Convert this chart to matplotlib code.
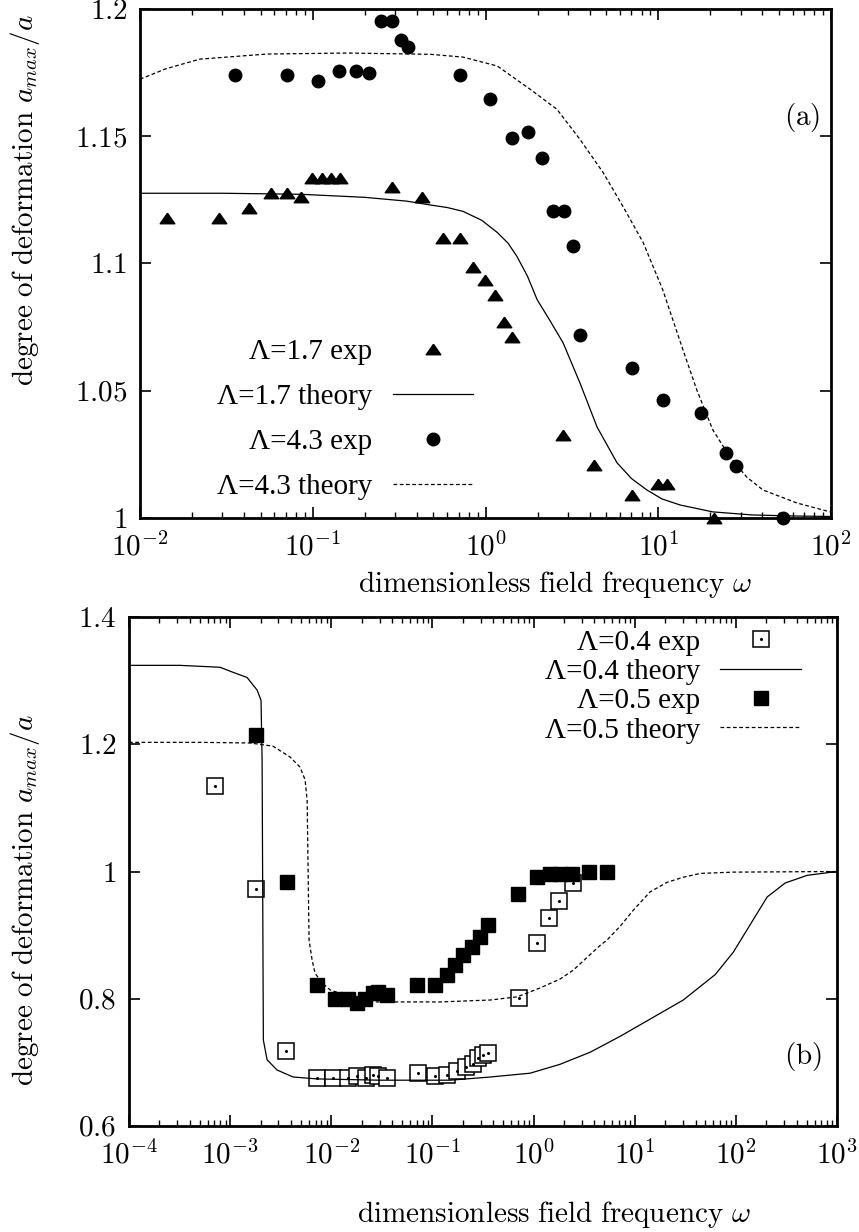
import numpy as np
import matplotlib
matplotlib.use("Agg")
import matplotlib.pyplot as plt
from matplotlib.ticker import FuncFormatter, LogLocator, FixedLocator

plt.rcParams['font.family'] = ['Liberation Serif', 'DejaVu Serif']
plt.rcParams['mathtext.fontset'] = 'cm'

# ---- panel (a) data ----
w17_exp = [0.0143, 0.0286, 0.0428, 0.0573, 0.071, 0.0855, 0.099, 0.113, 0.128, 0.144,
           0.288, 0.428, 0.567, 0.711, 0.847, 0.993, 1.135, 1.28, 1.42, 2.81,
           4.25, 7.05, 9.97, 11.2, 21.0]
d17_exp = [1.118, 1.118, 1.1217, 1.1276, 1.1276, 1.126, 1.1335, 1.1335, 1.1335, 1.1335,
           1.130, 1.126, 1.110, 1.110, 1.0988, 1.0937, 1.0878, 1.0772, 1.0713, 1.0327,
           1.0209, 1.009, 1.0134, 1.0134, 1.0]
w43_exp = [0.0355, 0.071, 0.107, 0.142, 0.178, 0.212, 0.248, 0.288, 0.324, 0.356,
           0.711, 1.06, 1.42, 1.76, 2.12, 2.46, 2.85, 3.21, 3.52, 7.05,
           10.6, 17.7, 24.7, 28.2, 52.7]
d43_exp = [1.174, 1.174, 1.1717, 1.1756, 1.1756, 1.1748, 1.1953, 1.1953, 1.1878, 1.185,
           1.174, 1.1646, 1.1492, 1.1516, 1.1413, 1.1205, 1.1205, 1.1067, 1.072, 1.059,
           1.0465, 1.0413, 1.0256, 1.0205, 1.0]

w17_th = [0.01, 0.03, 0.085, 0.2, 0.35, 0.478, 0.6, 0.74, 0.95, 1.17, 1.35, 1.52, 1.75,
          1.99, 2.34, 2.81, 3.52, 4.42, 5.77, 7.0, 8.6, 10.5, 13.4, 20.7, 35.0, 60.0, 100.0]
d17_th = [1.1276, 1.1276, 1.1272, 1.126, 1.1245, 1.1230, 1.1220, 1.1205, 1.117, 1.1122,
          1.108, 1.1028, 1.095, 1.0858, 1.078, 1.0689, 1.0531, 1.0358, 1.0217, 1.0155,
          1.011, 1.0075, 1.0051, 1.0024, 1.0012, 1.0008, 1.0006]
w43_th = [0.01, 0.0141, 0.0222, 0.0543, 0.158, 0.479, 0.741, 1.17, 1.81, 2.59, 3.52,
          4.79, 6.25, 8.17, 10.6, 13.9, 16.7, 20.7, 26.0, 32.5, 40.4, 63.5, 100.0]
d43_th = [1.1724, 1.1765, 1.1803, 1.1823, 1.1827, 1.1822, 1.1811, 1.1776, 1.1685, 1.1606,
          1.1488, 1.1358, 1.1224, 1.1083, 1.0898, 1.0661, 1.0504, 1.0346, 1.024, 1.0161,
          1.011, 1.0059, 1.0023]

# ---- panel (b) data ----
w04_exp = [7.1e-4, 1.80e-3, 3.57e-3, 7.2e-3, 0.0104, 0.0147, 0.018, 0.0221, 0.0259, 0.029,
           0.0356, 0.072, 0.106, 0.140, 0.175, 0.215, 0.253, 0.283, 0.318, 0.356,
           0.72, 1.09, 1.43, 1.79, 2.47]
d04_exp = [1.134, 0.972, 0.718, 0.675, 0.675, 0.675, 0.679, 0.675, 0.680, 0.679,
           0.675, 0.683, 0.679, 0.680, 0.686, 0.693, 0.697, 0.707, 0.712, 0.715,
           0.801, 0.888, 0.927, 0.953, 0.982]
w05_exp = [1.8e-3, 3.65e-3, 7.23e-3, 0.0109, 0.0147, 0.018, 0.0216, 0.0259, 0.029, 0.0356,
           0.0706, 0.106, 0.140, 0.168, 0.201, 0.247, 0.297, 0.356, 0.705, 1.09,
           1.46, 1.83, 2.41, 3.55, 5.35]
d05_exp = [1.214, 0.983, 0.822, 0.800, 0.800, 0.793, 0.800, 0.809, 0.810, 0.806,
           0.822, 0.822, 0.837, 0.853, 0.869, 0.881, 0.897, 0.916, 0.964, 0.991,
           0.996, 0.996, 0.996, 1.0, 1.0]

w04_th = [1e-4, 3.19e-4, 7.94e-4, 1.07e-3, 1.47e-3, 1.85e-3, 2.02e-3, 2.07e-3, 2.10e-3,
          2.13e-3, 2.32e-3, 2.91e-3, 4.19e-3, 7.23e-3, 0.0304, 0.150, 0.372, 0.925,
          1.83, 3.63, 7.19, 14.2, 30.2, 62.5, 94.2, 204.0, 308.0, 508.0, 1000.0]
d04_th = [1.324, 1.324, 1.321, 1.313, 1.305, 1.285, 1.269, 1.175, 0.955,
          0.735, 0.704, 0.688, 0.677, 0.674, 0.672, 0.672, 0.677, 0.683,
          0.697, 0.716, 0.741, 0.768, 0.798, 0.838, 0.873, 0.960, 0.982, 0.994, 1.0]
w05_th = [1e-4, 5.0e-4, 1.57e-3, 2.65e-3, 3.91e-3, 4.91e-3, 5.51e-3, 5.77e-3, 5.90e-3,
          6.03e-3, 6.46e-3, 6.92e-3, 8.11e-3, 9.72e-3, 0.0153, 0.0284, 0.119, 0.372,
          0.689, 1.16, 1.83, 2.47, 4.56, 5.30, 7.19, 9.66, 14.2, 20.9, 30.2, 44.5, 94.2,
          1000.0]
d05_th = [1.203, 1.203, 1.202, 1.197, 1.180, 1.164, 1.144, 1.112, 1.002,
          0.892, 0.861, 0.840, 0.825, 0.814, 0.803, 0.795, 0.795, 0.798,
          0.803, 0.817, 0.831, 0.845, 0.884, 0.892, 0.914, 0.939, 0.968, 0.983, 0.991,
          0.997, 0.999, 1.0]

FS = 21
ylab = r'$\mathrm{degree\ of\ deformation}\ a_{max}/a$'
xlab = r'$\mathrm{dimensionless\ field\ frequency}\ \omega$'
dash = (0, (3, 2))
tri = [(0, 0.72), (-1, -0.72), (1, -0.72), (0, 0.72)]


def style_axes(ax, xlim, ylim, yticks):
    ax.set_xscale('log')
    ax.set_xlim(*xlim)
    ax.set_ylim(*ylim)
    ax.yaxis.set_major_locator(FixedLocator(yticks))
    ax.xaxis.set_major_locator(LogLocator(base=10, numticks=20))
    ax.xaxis.set_minor_locator(LogLocator(base=10, subs=np.arange(2, 10), numticks=20))
    ax.xaxis.set_major_formatter(FuncFormatter(lambda v, p: r'$10^{%d}$' % round(np.log10(v))))
    ax.yaxis.set_major_formatter(FuncFormatter(lambda v, p: r'$%g$' % v))
    ax.tick_params(which='both', direction='in', top=True, right=True, labelsize=FS)
    ax.tick_params(which='major', length=8, width=1.2, pad=9)
    ax.tick_params(axis='x', which='major', pad=10)
    ax.tick_params(which='minor', length=4, width=1.0)
    for s in ax.spines.values():
        s.set_linewidth(2.0)


fig = plt.figure(figsize=(8.59, 12.32), dpi=100)

# ---- (a) ----
ax1 = fig.add_axes([140 / 859, 1 - 518 / 1232, 691 / 859, 509 / 1232])
style_axes(ax1, (1e-2, 1e2), (1.0, 1.2), [1.0, 1.05, 1.1, 1.15, 1.2])
ax1.plot(w17_exp, d17_exp, ls='none', marker=tri, ms=10.5, color='black', clip_on=False,
         label='Λ=1.7 exp')
ax1.plot(w17_th, d17_th, '-', color='black', lw=0.9, label='Λ=1.7 theory')
ax1.plot(w43_exp, d43_exp, ls='none', marker='o', ms=9, color='black', clip_on=False,
         label='Λ=4.3 exp')
ax1.plot(w43_th, d43_th, ls=dash, color='black', lw=0.9, label='Λ=4.3 theory')
ax1.set_xlabel(xlab, fontsize=FS)
ax1.set_ylabel(ylab, fontsize=FS)
ax1.xaxis.set_label_coords(0.60, -0.10)
ax1.yaxis.set_label_coords(-0.142, 0.625)
ax1.text(0.958, 0.786, r'$\mathrm{(a)}$', transform=ax1.transAxes, fontsize=FS,
         ha='center', va='center')
ax1.legend(loc='upper right', bbox_to_anchor=(0.482, 0.352), frameon=False,
           markerfirst=False, fontsize=FS, handlelength=2.76, handletextpad=0.7,
           labelspacing=0.64, borderpad=0, borderaxespad=0)

# ---- (b) ----
ax2 = fig.add_axes([129 / 859, 1 - 1126 / 1232, 708 / 859, 509 / 1232])
style_axes(ax2, (1e-4, 1e3), (0.6, 1.4), [0.6, 0.8, 1.0, 1.2, 1.4])
sq, = ax2.plot(w04_exp, d04_exp, ls='none', marker='s', ms=11, mfc='white', mec='black',
               mew=1.1, clip_on=False)
dot, = ax2.plot(w04_exp, d04_exp, ls='none', marker='o', ms=1.2, color='black')
l04, = ax2.plot(w04_th, d04_th, '-', color='black', lw=0.9)
fsq, = ax2.plot(w05_exp, d05_exp, ls='none', marker='s', ms=10.5, color='black',
                clip_on=False)
l05, = ax2.plot(w05_th, d05_th, ls=dash, color='black', lw=0.9)
ax2.set_xlabel(xlab, fontsize=FS)
ax2.set_ylabel(ylab, fontsize=FS)
ax2.xaxis.set_label_coords(0.60, -0.143)
ax2.yaxis.set_label_coords(-0.123, 0.444)
ax2.text(0.952, 0.136, r'$\mathrm{(b)}$', transform=ax2.transAxes, fontsize=FS,
         ha='center', va='center')
ax2.legend([(sq, dot), l04, fsq, l05],
           ['Λ=0.4 exp', 'Λ=0.4 theory', 'Λ=0.5 exp', 'Λ=0.5 theory'],
           loc='upper right', bbox_to_anchor=(0.949, 0.976), frameon=False,
           markerfirst=False, fontsize=FS, handlelength=2.76, handletextpad=0.7,
           labelspacing=0.1, borderpad=0, borderaxespad=0)

fig.savefig('out.png', dpi=100)
